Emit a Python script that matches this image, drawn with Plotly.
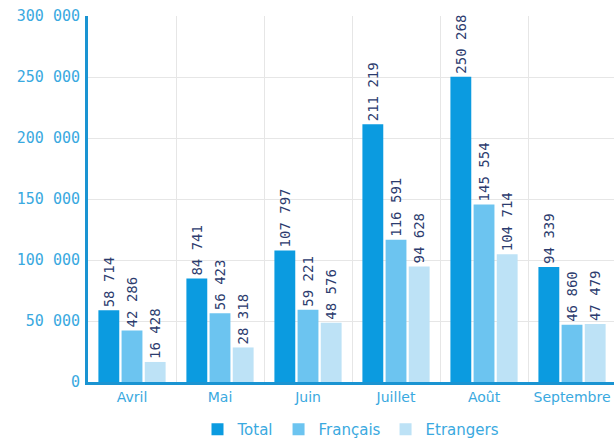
import plotly.graph_objects as go

months = ["Avril", "Mai", "Juin", "Juillet", "Août", "Septembre"]
total = [58714, 84741, 107797, 211219, 250268, 94339]
francais = [42286, 56423, 59221, 116591, 145554, 46860]
etrangers = [16428, 28318, 48576, 94628, 104714, 47479]
y_ticks = [0, 50000, 100000, 150000, 200000, 250000, 300000]

series = [
    ("Total", total, "#0b9be0"),
    ("Français", francais, "#6cc4f0"),
    ("Etrangers", etrangers, "#bde2f6"),
]

def fmt(v):
    return f"{v:,}".replace(",", " ")

fig = go.Figure()
for name, vals, col in series:
    fig.add_trace(go.Bar(
        x=months, y=vals, name=name,
        marker=dict(color=col, line=dict(width=0)),
        text=[fmt(v) for v in vals],
        textposition="outside", textangle=-90,
        textfont=dict(family="DejaVu Sans Mono", size=14, color="#2c3b6e"),
        cliponaxis=False, constraintext="none",
    ))

fig.update_layout(
    width=614, height=438,
    margin=dict(l=88, r=0, t=16, b=56, autoexpand=False),
    paper_bgcolor="white", plot_bgcolor="white",
    barmode="group", bargap=0.21, bargroupgap=0.1,
    showlegend=True,
    legend=dict(orientation="h", x=0.5, xanchor="center", y=-0.13, yanchor="middle",
                font=dict(family="DejaVu Sans", size=15, color="#3aa9e0"),
                itemwidth=30, traceorder="normal"),
    font=dict(family="DejaVu Sans"),
)
fig.update_xaxes(
    range=[-0.5, 5.477], tickson="boundaries", ticks="", automargin=False,
    showgrid=True, gridcolor="#e6e6e6", gridwidth=1,
    showline=True, linewidth=3, linecolor="#1a94d2",
    tickfont=dict(family="DejaVu Sans", size=14, color="#3aa9e0"),
    fixedrange=True,
)
fig.update_yaxes(
    range=[0, 300000], tickvals=y_ticks,
    ticktext=[fmt(v) for v in y_ticks], automargin=False,
    showgrid=True, gridcolor="#e6e6e6", gridwidth=1, zeroline=False,
    showline=True, linewidth=3, linecolor="#1a94d2", ticks="", ticklabelstandoff=2,
    tickfont=dict(family="DejaVu Sans Mono", size=15, color="#3aa9e0"),
)

fig.write_html("out.html", config={"displayModeBar": False},
               post_script="document.body.style.margin='0';document.body.style.overflow='hidden';")
